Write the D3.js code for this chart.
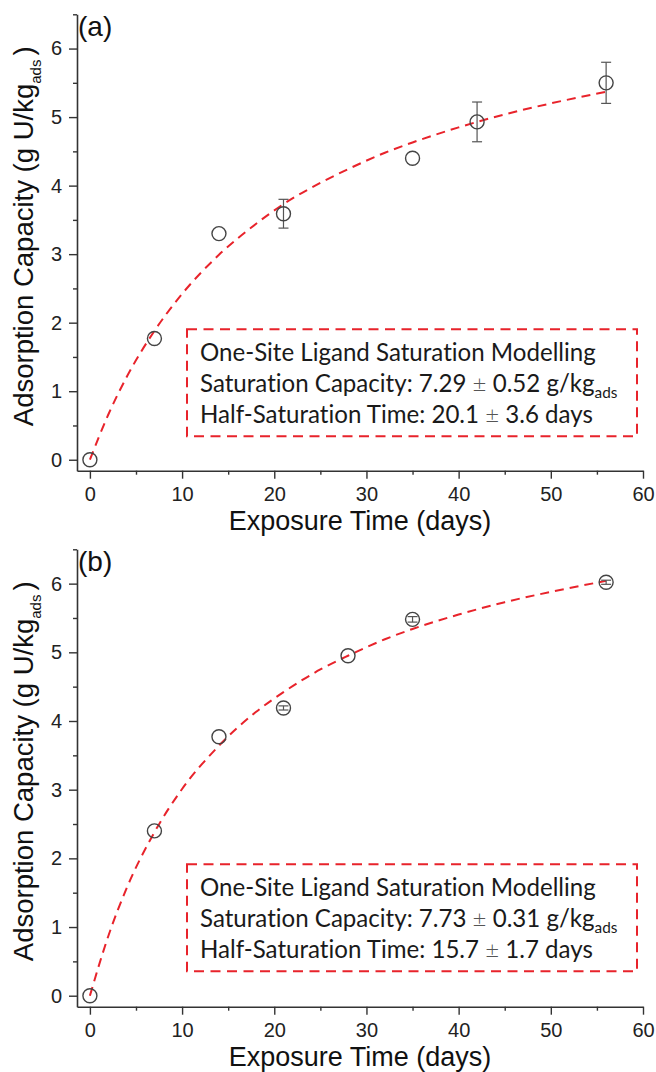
<!DOCTYPE html>
<html>
<head>
<meta charset="utf-8">
<script src="https://cdn.jsdelivr.net/npm/d3@7"></script>
<style>
  html, body { margin: 0; padding: 0; background: #fff; }
  svg { display: block; }
  .boxtext { font-variant-ligatures: none; font-feature-settings: "liga" 0, "clig" 0; }
</style>
</head>
<body>
<svg id="chart" width="656" height="1072"></svg>
<script>
// ---------------- data ----------------
const xTickValues = [0, 10, 20, 30, 40, 50, 60];
const xMinorValues = [5, 15, 25, 35, 45, 55];
const yTickValues = [0, 1, 2, 3, 4, 5, 6];
const yMinorValues = [0.5, 1.5, 2.5, 3.5, 4.5, 5.5, 6.5];

const panelLabels = ["(a)", "(b)"];

// panel (a) measurements
const daysA = [0, 7, 14, 21, 35, 42, 56];
const capacityA = [0, 1.77, 3.30, 3.59, 4.40, 4.93, 5.50];
const errorA = [0, 0, 0, 0.21, 0, 0.29, 0.30];

// panel (b) measurements
const daysB = [0, 7, 14, 21, 28, 35, 56];
const capacityB = [0, 2.40, 3.77, 4.19, 4.95, 5.48, 6.02];
const errorB = [0, 0, 0, 0.03, 0, 0.04, 0.03];

// fitted one-site ligand saturation curves
const fitDays = [0, 2, 4, 7, 10, 14, 18, 21, 25, 28, 32, 35, 40, 45, 50, 56];
const fitA = [0, 0.66, 1.21, 1.88, 2.42, 2.99, 3.44, 3.73, 4.04, 4.24, 4.48, 4.63, 4.85, 5.04, 5.20, 5.37];
const fitB = [0, 0.87, 1.57, 2.38, 3.01, 3.64, 4.13, 4.42, 4.75, 4.95, 5.19, 5.34, 5.55, 5.73, 5.88, 6.04];

const boxTitle = "One-Site Ligand Saturation Modelling";
const satCapA = ["7.29", "0.52"];
const halfTimeA = ["20.1", "3.6"];
const satCapB = ["7.73", "0.31"];
const halfTimeB = ["15.7", "1.7"];

const xTitle = "Exposure Time (days)";

// ---------------- drawing ----------------
const svg = d3.select("#chart");
const AXIS_FONT = "'Liberation Sans', Arial, sans-serif";
const BOX_FONT = "Lato, 'Open Sans', sans-serif";
const RED = "#e8232b";
const AXIS_COLOR = "#333";

const left = 77, right = 643;
const xDomain = [-1.4, 60];
const yDomain = [-0.16, 6.5];

function drawPanel(top, bottom, label, days, caps, errs, fit, satCap, halfTime) {
  const g = svg.append("g");
  const x = d3.scaleLinear().domain(xDomain).range([left, right]);
  const y = d3.scaleLinear().domain(yDomain).range([bottom, top]);

  // fitted curve
  const line = d3.line()
    .x((d, i) => x(fitDays[i]))
    .y(d => y(d))
    .curve(d3.curveMonotoneX);
  g.append("path")
    .datum(fit)
    .attr("d", line)
    .attr("fill", "none")
    .attr("stroke", RED)
    .attr("stroke-width", 2)
    .attr("stroke-dasharray", "9,6");

  // error bars
  const pts = days.map((d, i) => ({ x: d, y: caps[i], e: errs[i] }));
  const eb = g.append("g").attr("stroke", "#555").attr("stroke-width", 1.2).attr("fill", "none");
  pts.filter(p => p.e > 0).forEach(p => {
    const cx = x(p.x), y0 = y(p.y - p.e), y1 = y(p.y + p.e);
    eb.append("line").attr("x1", cx).attr("x2", cx).attr("y1", y0).attr("y2", y1);
    eb.append("line").attr("x1", cx - 5).attr("x2", cx + 5).attr("y1", y0).attr("y2", y0);
    eb.append("line").attr("x1", cx - 5).attr("x2", cx + 5).attr("y1", y1).attr("y2", y1);
  });

  // markers
  g.append("g").selectAll("circle")
    .data(pts)
    .join("circle")
    .attr("cx", d => x(d.x))
    .attr("cy", d => y(d.y))
    .attr("r", 7)
    .attr("fill", "none")
    .attr("stroke", "#444")
    .attr("stroke-width", 1.4);

  // axes
  g.append("g").attr("transform", `translate(0,${bottom})`)
    .call(d3.axisBottom(x).tickValues(xTickValues).tickFormat(d3.format("d"))
      .tickSize(8).tickSizeOuter(0).tickPadding(8));
  g.append("g").attr("transform", `translate(0,${bottom})`)
    .call(d3.axisBottom(x).tickValues(xMinorValues).tickSize(4).tickSizeOuter(0).tickFormat(""))
    .select(".domain").remove();
  g.append("g").attr("transform", `translate(${left},0)`)
    .call(d3.axisLeft(y).tickValues(yTickValues).tickFormat(d3.format("d"))
      .tickSize(8).tickSizeOuter(0).tickPadding(7));
  g.append("g").attr("transform", `translate(${left},0)`)
    .call(d3.axisLeft(y).tickValues(yMinorValues).tickSize(4).tickSizeOuter(0).tickFormat(""))
    .select(".domain").remove();

  g.selectAll(".domain").attr("stroke", AXIS_COLOR).attr("stroke-width", 1.6);
  g.selectAll(".tick line").attr("stroke", AXIS_COLOR).attr("stroke-width", 1.4);
  g.selectAll(".tick text").attr("font-family", AXIS_FONT).attr("font-size", 20).attr("fill", "#222");

  // x title
  g.append("text")
    .attr("x", (left + right) / 2)
    .attr("y", bottom + 59)
    .attr("text-anchor", "middle")
    .attr("font-family", AXIS_FONT)
    .attr("font-size", 27)
    .attr("fill", "#111")
    .text(xTitle);

  // y title
  const yt = g.append("text")
    .attr("transform", `translate(33,${top + 222}) rotate(-90)`)
    .attr("text-anchor", "middle")
    .attr("font-family", AXIS_FONT)
    .attr("font-size", 27.5)
    .attr("fill", "#111");
  yt.append("tspan").text("Adsorption Capacity (g U/kg");
  yt.append("tspan").attr("font-size", 15).attr("dy", 8).text("ads");
  yt.append("tspan").attr("dy", -8).attr("dx", 4).text(")");

  // panel label
  g.append("text")
    .attr("x", 78)
    .attr("y", top + 22)
    .attr("font-family", AXIS_FONT)
    .attr("font-size", 28)
    .attr("fill", "#111")
    .text(label);

  // annotation box
  const bx = 187, by = top + 315, bw = 450, bh = 107;
  g.append("rect")
    .attr("x", bx).attr("y", by).attr("width", bw).attr("height", bh)
    .attr("fill", "none")
    .attr("stroke", RED)
    .attr("stroke-width", 2)
    .attr("stroke-dasharray", "10,6.5");

  const tg = g.append("g").attr("class", "boxtext").attr("font-family", BOX_FONT).attr("fill", "#1a1a1a");
  const fs = 22;
  const t1 = tg.append("text").attr("x", 200).attr("y", by + 31.5).attr("font-size", fs).text(boxTitle);
  const t2 = tg.append("text").attr("x", 200).attr("y", by + 62.5).attr("font-size", fs);
  t2.append("tspan").text(`Saturation Capacity: ${satCap[0]} `);
  t2.append("tspan").attr("font-weight", 300).attr("fill", "#555").text("±");
  t2.append("tspan").text(` ${satCap[1]} g/kg`);
  t2.append("tspan").attr("class", "sub").attr("dy", 6).text("ads");
  const t3 = tg.append("text").attr("x", 200).attr("y", by + 93.5).attr("font-size", fs);
  t3.append("tspan").text(`Half-Saturation Time: ${halfTime[0]} `);
  t3.append("tspan").attr("font-weight", 300).attr("fill", "#555").text("±");
  t3.append("tspan").text(` ${halfTime[1]} days`);

  // fit line 1 width to reference
  const w = t1.node().getComputedTextLength();
  const scale = 396 / w;
  tg.selectAll("text").attr("font-size", fs * scale);
  tg.selectAll("tspan.sub").attr("font-size", 14 * scale);
}

drawPanel(14.3, 470.7, panelLabels[0], daysA, capacityA, errorA, fitA, satCapA, halfTimeA);
drawPanel(549.3, 1006.7, panelLabels[1], daysB, capacityB, errorB, fitB, satCapB, halfTimeB);
</script>
</body>
</html>
